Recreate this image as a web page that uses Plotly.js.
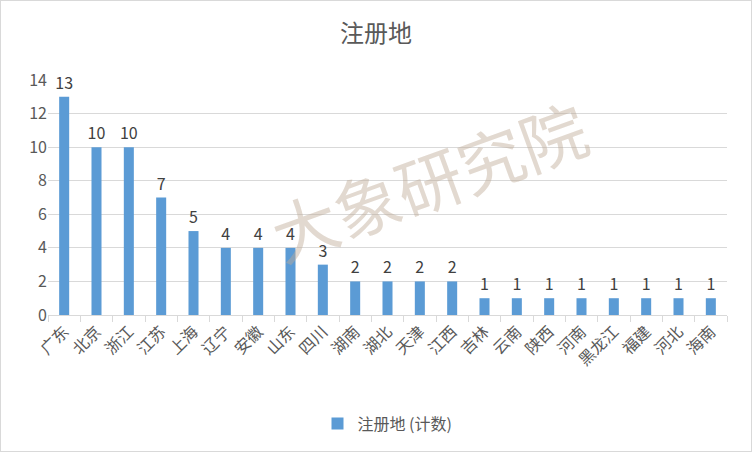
<!DOCTYPE html>
<html><head><meta charset="utf-8">
<script src="https://cdn.plot.ly/plotly-3.0.1.min.js"></script>
<style>
html,body{margin:0;padding:0;background:#fff;}
#frame{position:absolute;left:0;top:0;width:750px;height:450px;border:1px solid #d9d9d9;pointer-events:none;z-index:10;}
#chart{position:absolute;left:0;top:0;width:752px;height:452px;}
</style>
</head><body>
<div id="chart"></div><div id="frame"></div>
<script>
const categories = ["广东","北京","浙江","江苏","上海","辽宁","安徽","山东","四川","湖南","湖北","天津","江西","吉林","云南","陕西","河南","黑龙江","福建","河北","海南"];
const counts = [13,10,10,7,5,4,4,4,3,2,2,2,2,1,1,1,1,1,1,1,1];
const seriesName = "注册地 (计数)";
const titleText = "注册地";
const watermark = "大象研究院";

const font = "'Noto Sans CJK SC', 'Noto Sans', sans-serif";

Plotly.newPlot('chart', [{
  type: 'bar',
  x: categories,
  y: counts,
  name: seriesName,
  marker: {color: '#5B9BD5'},
  text: counts.map(String),
  textposition: 'outside',
  constraintext: 'none',
  cliponaxis: false,
  textfont: {size: 16, color: '#404040', family: font},
  showlegend: true
}], {
  width: 752, height: 452,
  margin: {l: 48, r: 25, t: 80, b: 135},
  paper_bgcolor: '#fff', plot_bgcolor: '#fff',
  title: {text: titleText, x: 0.5, xanchor: 'center', y: 0.925, yanchor: 'middle',
          font: {size: 24, color: '#595959', family: font}},
  bargap: 0.69,
  xaxis: {
    type: 'category',
    tickangle: -45,
    tickfont: {size: 16, color: '#595959', family: font},
    showline: true, linecolor: '#d9d9d9', linewidth: 1,
    ticks: 'outside', tickson: 'boundaries', ticklen: 6, tickcolor: '#d9d9d9',
    showgrid: false, fixedrange: true
  },
  yaxis: {
    range: [0, 14], dtick: 2,
    tickfont: {size: 16, color: '#595959', family: font},
    gridcolor: '#d9d9d9', gridwidth: 1,
    zeroline: false, showline: false, ticks: '', ticklen: 4,
    fixedrange: true
  },
  legend: {orientation: 'h', x: 0.5, xanchor: 'center', y: -0.39, yanchor: 'top',
           font: {size: 16, color: '#595959', family: font}},
  annotations: [{
    text: watermark, xref: 'paper', yref: 'paper', x: 0.56, y: 0.58,
    showarrow: false, textangle: -20,
    font: {size: 66, color: 'rgba(190,170,150,0.45)', family: font}
  }]
}, {displayModeBar: false, staticPlot: true});
</script>
</body></html>
